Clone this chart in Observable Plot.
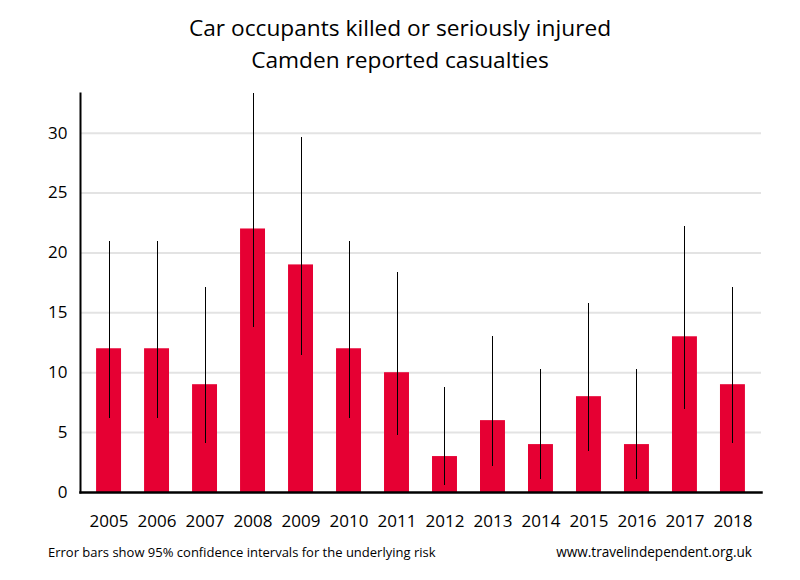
<!DOCTYPE html>
<html>
<head>
<meta charset="utf-8">
<script src="https://cdn.jsdelivr.net/npm/d3@7"></script>
<script src="https://cdn.jsdelivr.net/npm/@observablehq/plot@0.6"></script>
<style>
  body { margin: 0; background: #fff; font-family: "Open Sans", "Noto Sans", sans-serif; }
  #wrap { position: relative; width: 800px; height: 580px; overflow: hidden; }
  #title { position: absolute; top: 12px; left: 0; width: 800px; text-align: center; font-size: 22.7px; line-height: 32px; color: #000; }
  #chart { position: absolute; top: 80px; left: 0; }
  #note { position: absolute; top: 543px; left: 48px; font-size: 13px; color: #000; }
  #src { position: absolute; top: 542px; right: 48px; font-size: 13.6px; color: #000; }
</style>
</head>
<body>
<div id="wrap">
  <div id="title">Car occupants killed or seriously injured<br>Camden reported casualties</div>
  <div id="chart"></div>
  <div id="note">Error bars show 95% confidence intervals for the underlying risk</div>
  <div id="src">www.travelindependent.org.uk</div>
</div>
<script>
const years = ["2005","2006","2007","2008","2009","2010","2011","2012","2013","2014","2015","2016","2017","2018"];
const casualties = [12, 12, 9, 22, 19, 12, 10, 3, 6, 4, 8, 4, 13, 9];
const lower = [6.2, 6.2, 4.12, 13.79, 11.44, 6.2, 4.8, 0.62, 2.2, 1.09, 3.45, 1.09, 6.92, 4.12];
const upper = [20.96, 20.96, 17.08, 33.31, 29.67, 20.96, 18.39, 8.77, 13.06, 10.24, 15.76, 10.24, 22.23, 17.08];
const yTicks = [0, 5, 10, 15, 20, 25, 30];

const data = years.map((y, i) => ({year: y, value: casualties[i], lo: lower[i], hi: upper[i]}));

const plot = Plot.plot({
  width: 800,
  height: 460,
  marginLeft: 80,
  marginRight: 39,
  marginTop: 13,
  marginBottom: 48,
  style: {fontFamily: '"Open Sans", "Noto Sans", sans-serif', fontSize: "17px", color: "#000", background: "transparent"},
  x: {domain: years, paddingInner: 0.48, paddingOuter: 0.335, round: false, label: null},
  y: {domain: [0, 33.31], label: null},
  marks: [
    Plot.gridY(yTicks.filter(d => d > 0), {stroke: "#e3e3e3", strokeOpacity: 1, strokeWidth: 2}),
    Plot.barY(data, {x: "year", y: "value", fill: "#e60033"}),
    Plot.ruleX(data, {x: "year", y1: "lo", y2: "hi", stroke: "#000", strokeWidth: 1, shapeRendering: "crispEdges"}),
    Plot.frame({anchor: "left", stroke: "#000", strokeWidth: 2}),
    Plot.frame({anchor: "bottom", stroke: "#000", strokeWidth: 2.5}),
    Plot.axisY({ticks: yTicks, tickSize: 0, tickPadding: 13, label: null}),
    Plot.axisX({tickSize: 0, tickPadding: 22, label: null})
  ]
});
document.getElementById("chart").appendChild(plot);
</script>
</body>
</html>
